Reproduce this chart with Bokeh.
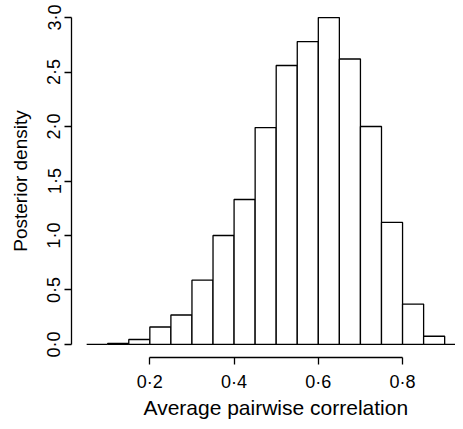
from bokeh.plotting import figure
from bokeh.models import FixedTicker, Range1d, Title
from bokeh.embed import file_html
from bokeh.resources import INLINE

# ---- data ----
bin_left = [0.05, 0.10, 0.15, 0.20, 0.25, 0.30, 0.35, 0.40, 0.45,
            0.50, 0.55, 0.60, 0.65, 0.70, 0.75, 0.80, 0.85, 0.90]
bin_right = [0.10, 0.15, 0.20, 0.25, 0.30, 0.35, 0.40, 0.45, 0.50,
             0.55, 0.60, 0.65, 0.70, 0.75, 0.80, 0.85, 0.90, 0.95]
density = [0.0, 0.01, 0.045, 0.16, 0.27, 0.59, 1.0, 1.33, 1.99,
           2.56, 2.78, 3.0, 2.62, 2.0, 1.12, 0.37, 0.075, 0.0]
x_ticks = [0.2, 0.4, 0.6, 0.8]
x_tick_labels = ["0\u00b72", "0\u00b74", "0\u00b76", "0\u00b78"]
y_ticks = [0.0, 0.5, 1.0, 1.5, 2.0, 2.5, 3.0]
y_tick_labels = ["0\u00b70", "0\u00b75", "1\u00b70", "1\u00b75", "2\u00b70", "2\u00b75", "3\u00b70"]
x_title = "Average pairwise correlation"
y_title = "Posterior density"

FONT = "Liberation Sans"

p = figure(width=455, height=421, output_backend="svg", toolbar_location=None,
           x_range=Range1d(0.014, 0.9257), y_range=Range1d(-0.12, 3.12),
           min_border_left=71, min_border_right=0, min_border_top=4,
           min_border_bottom=55)
p.outline_line_color = None
p.grid.visible = False
p.background_fill_color = "white"
p.border_fill_color = "white"

p.quad(left=bin_left, right=bin_right, bottom=0, top=density,
       fill_color="white", line_color="black", line_width=1.3)

for ax, ticks, labels in ((p.xaxis[0], x_ticks, x_tick_labels),
                          (p.yaxis[0], y_ticks, y_tick_labels)):
    ax.ticker = FixedTicker(ticks=ticks)
    ax.major_label_overrides = dict(zip(ticks, labels))
    ax.bounds = (ticks[0], ticks[-1])
    ax.minor_tick_line_color = None
    ax.major_tick_in = 0
    ax.major_tick_out = 7
    ax.axis_line_width = 1.3
    ax.major_tick_line_width = 1.3
    ax.major_label_text_font = FONT
    ax.major_label_text_font_size = "18px"
    ax.major_label_text_color = "black"
    ax.axis_line_color = "black"
    ax.major_tick_line_color = "black"

p.xaxis[0].major_label_standoff = 7
p.yaxis[0].major_label_orientation = "parallel"
p.yaxis[0].major_label_standoff = 0
p.yaxis[0].axis_label = y_title
p.yaxis[0].axis_label_text_font = FONT
p.yaxis[0].axis_label_text_font_size = "19px"
p.yaxis[0].axis_label_text_font_style = "normal"
p.yaxis[0].axis_label_text_color = "black"
p.yaxis[0].axis_label_standoff = 11

p.add_layout(Title(text=x_title, align="left", offset=72, standoff=2,
                   vertical_align="top", text_font=FONT,
                   text_font_size="21px", text_font_style="normal",
                   text_color="black"), "below")

open("out.html", "w").write(file_html(p, INLINE))
